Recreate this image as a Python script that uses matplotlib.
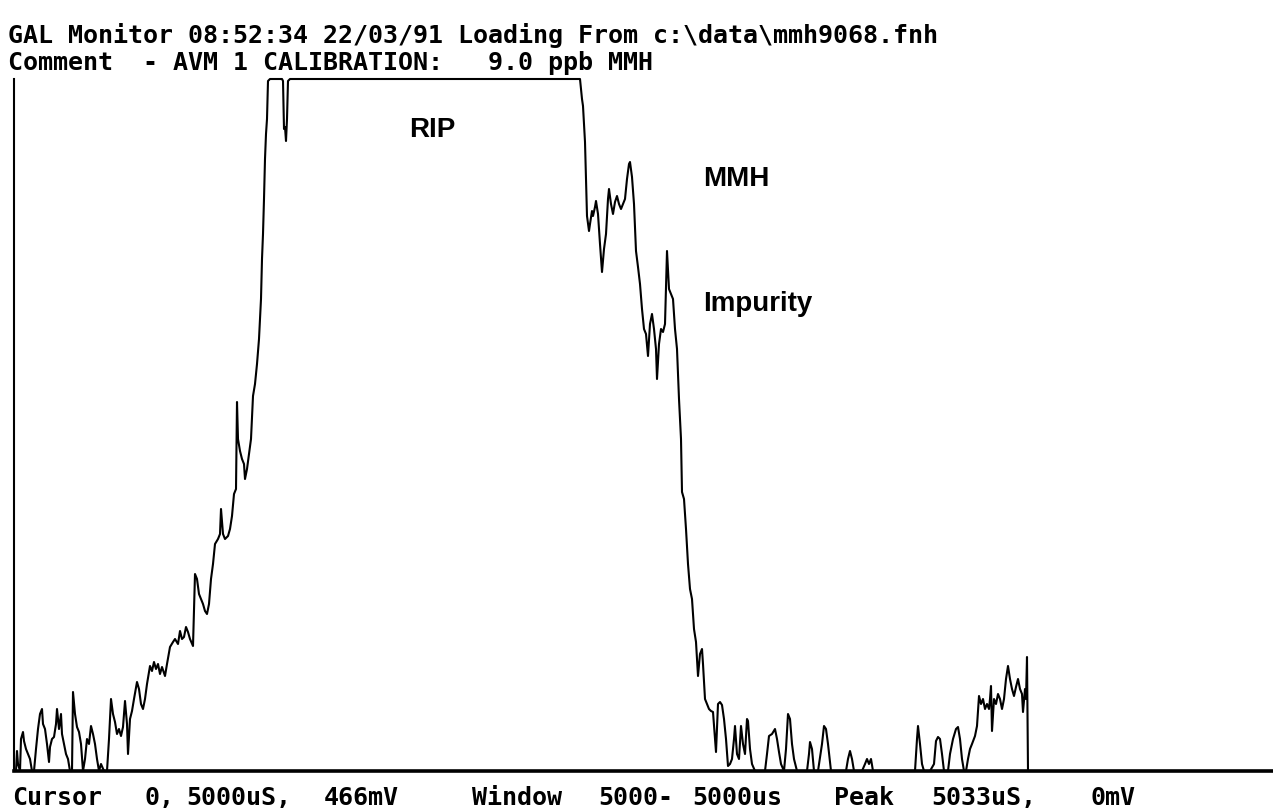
import matplotlib
matplotlib.use("Agg")
import matplotlib.pyplot as plt

# Ion mobility spectrum trace read off the screen dump
# drift channel (x) and detector signal (y, arbitrary units, 692 = saturated)
drift = [
    0, 2, 3, 4, 6, 7, 9, 10, 12, 14, 16, 18, 20, 22, 24, 26, 28, 29, 31, 33,
    35, 36, 38, 40, 42, 43, 45, 47, 48, 50, 52, 54, 56, 58, 59, 61, 63, 65, 67, 69,
    71, 73, 75, 77, 79, 81, 83, 85, 87, 90, 93, 95, 97, 99, 101, 103, 105, 107, 109, 111,
    113, 114, 116, 118, 120, 123, 125, 127, 129, 131, 133, 136, 138, 140, 142, 144, 146, 148, 151, 153,
    156, 159, 161, 164, 166, 168, 170, 172, 174, 176, 179, 181, 183, 185, 187, 189, 191, 193, 195, 197,
    199, 201, 204, 206, 207, 209, 211, 214, 216, 218, 220, 222, 223, 224, 226, 228, 230, 231, 233, 235,
    237, 239, 241, 243, 245, 247, 248, 249, 250, 251, 252, 253, 254, 256, 268, 269, 270, 271, 272, 273,
    274, 276, 564, 566, 568, 569, 571, 573, 575, 576, 578, 579, 581, 582, 584, 586, 588, 590, 592, 594,
    595, 597, 599, 601, 603, 605, 607, 609, 611, 613, 615, 616, 618, 620, 622, 624, 626, 628, 630, 632,
    634, 636, 638, 640, 642, 643, 645, 647, 649, 651, 653, 655, 657, 659, 661, 663, 665, 667, 668, 670,
    672, 674, 676, 678, 680, 682, 684, 686, 688, 689, 691, 693, 695, 697, 699, 701, 702, 704, 706, 708,
    710, 712, 714, 716, 718, 720, 721, 723, 725, 727, 729, 731, 733, 734, 736, 738, 741, 751, 753, 755,
    758, 761, 763, 765, 767, 770, 772, 774, 776, 778, 780, 783, 793, 795, 796, 798, 800, 804, 808, 810,
    812, 814, 817, 832, 834, 836, 838, 840, 848, 851, 853, 855, 857, 859, 901, 903, 904, 906, 908, 910,
    916, 920, 922, 924, 926, 928, 930, 934, 936, 939, 942, 944, 946, 948, 950, 952, 954, 956, 958, 961,
    963, 965, 967, 969, 971, 973, 975, 976, 977, 978, 980, 982, 984, 986, 988, 990, 992, 994, 996, 998,
    1000, 1002, 1004, 1006, 1008, 1009, 1011, 1012, 1013, 1014, 1259,
]
signal = [
    0, 0, 20, 7, 0, 32, 39, 30, 22, 17, 12, 0, 0, 22, 42, 57, 62, 47, 42, 27,
    9, 24, 32, 34, 47, 62, 42, 57, 37, 27, 17, 12, 0, 0, 79, 57, 44, 39, 27, 0,
    12, 32, 27, 45, 37, 27, 12, 0, 7, 0, 0, 32, 72, 57, 49, 37, 42, 35, 44, 70,
    47, 17, 52, 60, 72, 89, 82, 67, 62, 72, 87, 105, 100, 109, 102, 107, 97, 104, 95, 107,
    124, 129, 132, 127, 140, 132, 134, 144, 139, 132, 125, 197, 192, 177, 172, 167, 160, 157, 167, 192,
    207, 227, 232, 237, 262, 237, 232, 235, 242, 255, 277, 282, 369, 332, 320, 312, 307, 292, 302, 317,
    332, 375, 387, 407, 432, 472, 512, 537, 572, 612, 637, 652, 690, 692, 692, 690, 642, 644, 630, 652,
    690, 692, 692, 692, 672, 665, 629, 555, 540, 547, 560, 555, 564, 570, 557, 527, 499, 522, 537, 572,
    582, 567, 557, 569, 575, 567, 562, 567, 572, 592, 607, 609, 594, 567, 520, 504, 487, 462, 442, 437,
    415, 447, 457, 442, 422, 392, 427, 442, 439, 447, 520, 482, 477, 472, 442, 422, 372, 332, 279, 272,
    242, 207, 182, 172, 142, 129, 95, 117, 122, 107, 72, 67, 62, 60, 59, 32, 19, 67, 69, 66,
    52, 32, 5, 7, 12, 32, 45, 17, 12, 45, 27, 17, 52, 50, 22, 7, 0, 0, 17, 35,
    37, 42, 32, 19, 7, 0, 22, 57, 52, 27, 12, 0, 0, 17, 29, 22, 0, 0, 27, 45,
    42, 27, 0, 0, 12, 20, 12, 0, 0, 7, 12, 7, 12, 0, 0, 32, 45, 27, 7, 0,
    0, 7, 30, 34, 32, 17, 0, 0, 17, 32, 42, 44, 32, 12, 0, 0, 12, 22, 27, 35,
    45, 75, 67, 72, 62, 67, 62, 72, 85, 40, 72, 67, 77, 72, 62, 72, 92, 105, 92, 82,
    75, 84, 92, 82, 77, 59, 82, 72, 114, 0, 0,
]

header_1 = "GAL Monitor 08:52:34 22/03/91 Loading From c:\\data\\mmh9068.fnh"
header_2 = "Comment  - AVM 1 CALIBRATION:   9.0 ppb MMH"
status = ["Cursor", "0,", "5000uS,", "466mV", "Window", "5000-", "5000us",
          "Peak", "5033uS,", "0mV"]
status_x = [12, 145, 186, 324, 472, 598, 692, 834, 931, 1091]
peaks = ["RIP", "MMH", "Impurity"]
peak_xy = [(409, 137), (703, 186), (703, 311)]

W, H = 1273, 812
fig = plt.figure(figsize=(W / 100, H / 100), dpi=100)
fig.patch.set_facecolor("white")

# plot area: left edge at px 14, baseline at px 772, saturation at px 80
ax = fig.add_axes([14 / W, (H - 772) / H, (W - 14) / W, (772 - 80) / H])
ax.plot(drift, signal, color="black", lw=1.5, clip_on=False)
ax.set_xlim(0, 1259)
ax.set_ylim(0, 692)
ax.set_xticks([])
ax.set_yticks([])
for side in ["top", "right"]:
    ax.spines[side].set_visible(False)
ax.spines["left"].set_linewidth(1.5)
ax.spines["bottom"].set_linewidth(2.6)
ax.patch.set_alpha(0)

mono = dict(family="DejaVu Sans Mono", fontweight="bold", fontsize=18,
            color="black", va="baseline", ha="left")

fig.text(8 / W, 1 - 43 / H, header_1, **mono)
fig.text(8 / W, 1 - 70 / H, header_2, **mono)
for s, x in zip(status, status_x):
    fig.text(x / W, 1 - 805 / H, s, **mono)

for lab, (x, y) in zip(peaks, peak_xy):
    fig.text(x / W, 1 - y / H, lab, family="Liberation Sans", fontweight="bold",
             fontsize=20, color="black", va="baseline", ha="left")

fig.savefig("out.png", dpi=100, facecolor="white")
